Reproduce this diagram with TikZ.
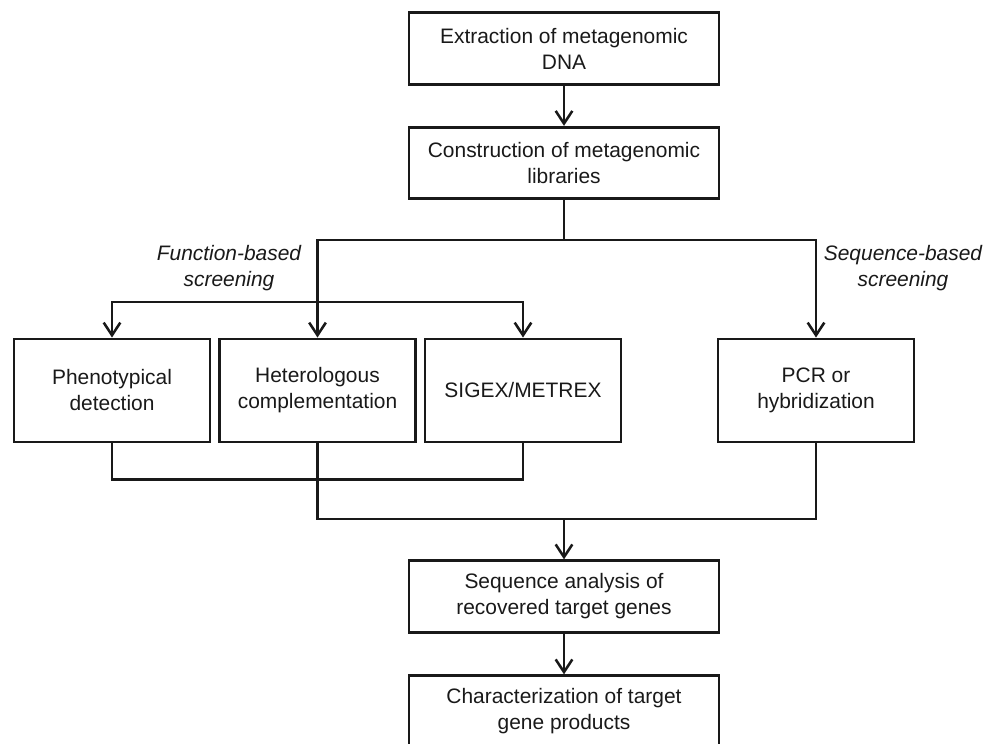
\documentclass[tikz,border=0pt]{standalone}
\usepackage{fontspec}
\setmainfont{Liberation Sans}
\usetikzlibrary{arrows.meta}

\tikzset{
  stage/.style={draw, line width=2.2pt, align=center, inner sep=2pt,
    minimum width=232.5pt, minimum height=53.5pt,
    font=\fontsize{15.7}{19.5}\selectfont},
  branch/.style={stage, minimum width=147pt, minimum height=77.25pt},
  wire/.style={line width=1.9pt},
  arr/.style={wire, -{Straight Barb[length=9.5pt,width=12.5pt,line width=1.9pt]}},
  lbl/.style={align=center, font=\fontsize{15.7}{19.5}\selectfont\itshape}
}

\begin{document}
\begin{tikzpicture}[x=0.75pt,y=-0.75pt,color=black!90]

  \useasboundingbox (0,0) rectangle (998,743);
  \clip (0,0) rectangle (998,743);

  % main steps
  \node[stage] (ext) at (564,48.5) {Extraction of metagenomic\\DNA};
  \node[stage] (con) at (564,163) {Construction of metagenomic\\libraries};

  % screening approaches
  \node[branch] (phe) at (112,390.5) {Phenotypical\\detection};
  \node[branch] (het) at (317.5,390.5) {Heterologous\\complementation};
  \node[branch] (sig) at (523,390.5) {SIGEX/METREX};
  \node[branch] (pcr) at (816,390.5) {PCR or\\hybridization};

  \node[stage] (seq) at (564,596.5) {Sequence analysis of\\recovered target genes};
  \node[stage] (cha) at (564,711.5) {Characterization of target\\gene products};

  \node[lbl] (fblabel) at (229,268.5) {Function-based\\screening};
  \node[lbl] (sblabel) at (903,268) {Sequence-based\\screening};

  \coordinate (fork) at (564,240);
  \coordinate (fsplit) at (317.5,302);
  \coordinate (join) at (564,519);

  \draw[arr] (ext) -- (con);
  \draw[wire] (con.south) -- (fork);
  \draw[arr] (fork) -| (het.north);
  \draw[arr] (fork) -| (pcr.north);
  \draw[arr] (fsplit) -| (phe.north);
  \draw[arr] (fsplit) -| (sig.north);

  \draw[wire] (phe.south) -- ++(0,36) -| (sig.south);
  \draw[wire] (het.south) |- (join) -| (pcr.south);
  \draw[arr] (join) -- (seq.north);
  \draw[arr] (seq) -- (cha);

\end{tikzpicture}
\end{document}
